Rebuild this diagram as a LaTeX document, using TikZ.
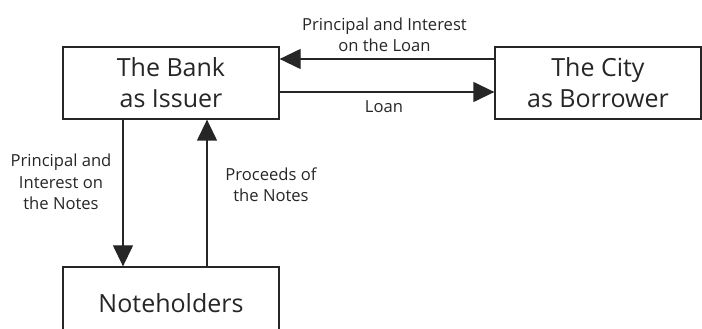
\documentclass[tikz,border=0pt]{standalone}
\usepackage{fontspec}
\setmainfont{Open Sans}
\usetikzlibrary{arrows.meta}
\begin{document}
\begin{tikzpicture}[x=1pt,y=1pt,
  box/.style={draw=black!85,line width=1.3pt,rectangle,minimum width=216pt,minimum height=72pt,inner sep=0pt,text=black!85,font=\fontsize{25}{31}\selectfont,align=center},
  lbl/.style={text=black!85,font=\fontsize{16.6}{21.5}\selectfont,align=center,inner sep=0pt},
  arr/.style={draw=black!85,line width=1.3pt,-{Triangle[length=21pt,width=20pt]}},
  ln/.style={draw=black!85,line width=1.3pt}]
\useasboundingbox (0,0) rectangle (702,329);
\node[box] (bank) at (171,246) {The Bank\\as Issuer};
\node[box,minimum width=206pt] (city) at (598,246) {The City\\as Borrower};
\node[box] (notes) at (171,26) {Noteholders};
\draw[arr] ([yshift=24pt]city.west) -- ([yshift=24pt]bank.east);
\draw[arr] ([yshift=-9pt]bank.east) -- ([yshift=-9pt]city.west);
\draw[arr] ([xshift=-48pt]bank.south) -- ([xshift=-48pt]notes.north);
\draw[arr] ([xshift=36pt]notes.north) -- ([xshift=36pt]bank.south);
\node[lbl] (l1) at (384.5,294) {Principal and Interest\\on the Loan};
\node[lbl,anchor=base] (l2) at (384,216) {Loan};
\node[lbl] (l3) at (61,147) {Principal and\\Interest on\\the Notes};
\node[lbl] (l4) at (271,144.5) {Proceeds of\\the Notes};
\end{tikzpicture}
\end{document}
